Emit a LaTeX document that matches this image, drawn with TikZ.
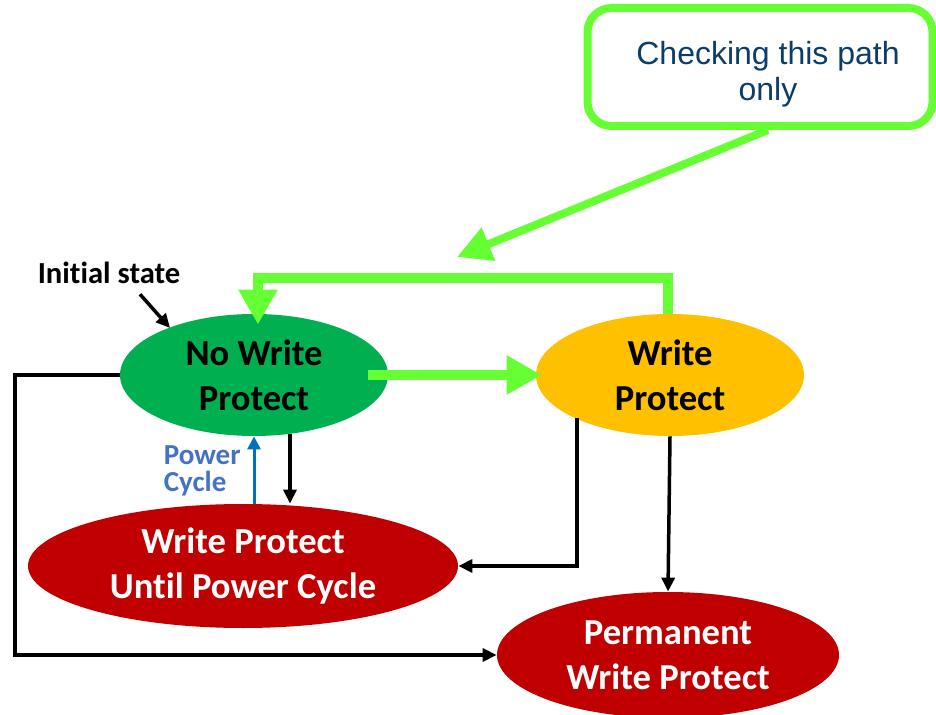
\documentclass[tikz,border=0pt]{standalone}
\usepackage{fontspec}
\setmainfont{Carlito}[Ligatures={NoCommon}]
\newfontfamily\notefont{Liberation Sans}
\usetikzlibrary{shapes.geometric,arrows.meta}

\definecolor{pathgreen}{HTML}{66FF33}
\definecolor{stategreen}{HTML}{00B050}
\definecolor{stateamber}{HTML}{FFC000}
\definecolor{statered}{HTML}{C00000}
\definecolor{cyclelabel}{HTML}{4472C4}
\definecolor{cyclearrow}{HTML}{0070C0}
\definecolor{notetext}{HTML}{0B3D6B}

\begin{document}
\begin{tikzpicture}[x=0.5pt,y=-0.5pt,
  state/.style={ellipse, inner sep=0pt, align=center,
    font=\bfseries\fontsize{18.3}{22.5}\selectfont},
  transition/.style={line width=1.75pt, line join=miter,
    -{Triangle[length=7pt,width=6.5pt]}},
  highlight/.style={draw=pathgreen, line width=5pt, line join=miter,
    -{Triangle[length=17.5pt,width=18.5pt]}},
  notebox/.style={draw=pathgreen, line width=4pt, rounded corners=12pt,
    minimum width=172.5pt, minimum height=59pt},
  notelabel/.style={align=center, inner sep=0pt, text=notetext,
    font=\notefont\fontsize{16}{18}\selectfont}]

\useasboundingbox (0,0) rectangle (936,715);

% states
\node[state, fill=stategreen, minimum width=134pt, minimum height=61pt]
  (nwp) at (254,375) {No Write\\Protect};
\node[state, fill=stateamber, minimum width=134pt, minimum height=61pt]
  (wp) at (670,375) {Write\\Protect};
\node[state, fill=statered, text=white, minimum width=215pt, minimum height=62pt]
  (wpc) at (243,566) {Write Protect\\Until Power Cycle};
\node[state, fill=statered, text=white, minimum width=171pt, minimum height=63pt]
  (pwp) at (668,655) {Permanent\\Write Protect};

% labels
\node[font=\bfseries\fontsize{15.3}{18}\selectfont, inner sep=0pt]
  (init) at (109,273) {Initial state};
\node[font=\bfseries\fontsize{14.5}{13.5}\selectfont, text=cyclelabel,
  align=left, inner sep=0pt, anchor=east] (pclabel) at (241,471) {Power\\Cycle};

% note
\node[notebox] (callout) at (760,67) {};
\node[notelabel] (notetxt) at ([xshift=4pt,yshift=-3.5pt]callout.center)
  {Checking this path\\only};

% black transitions
\draw[transition] ([xshift=15.5pt,yshift=-5pt]init.south)
  -- ([shift={(-42pt,23.5pt)}]nwp.center);
\draw[transition] (nwp.west) -| (15,0 |- pwp.west) -- (pwp.west);
\draw[transition] ([shift={(-46.5pt,-21.5pt)}]wp.center) |- (wpc.east);
\draw[transition] (wp.south) -- (pwp.north);
\draw[transition] ([shift={(18pt,-29.5pt)}]nwp.center)
  -- ([xshift=18pt]nwp.center |- wpc.north);

% power cycle return
\draw[draw=cyclearrow, line width=1.5pt,
  -{Triangle[length=6.5pt,width=6.5pt]}] (nwp.south |- wpc.north) -- (nwp.south);

% highlighted path
\draw[highlight, shorten <=-10pt, shorten >=-3pt] (nwp.east) -- (wp.west);
\draw[highlight, shorten >=-5.5pt] ([xshift=-1pt]wp.north) |- (258,278) -- (nwp.north -| 258,0);
\draw[highlight, line width=4pt, -{Triangle[length=17pt,width=17pt]}]
  ([xshift=4pt]callout.south) -- (457,257);

\end{tikzpicture}
\end{document}
